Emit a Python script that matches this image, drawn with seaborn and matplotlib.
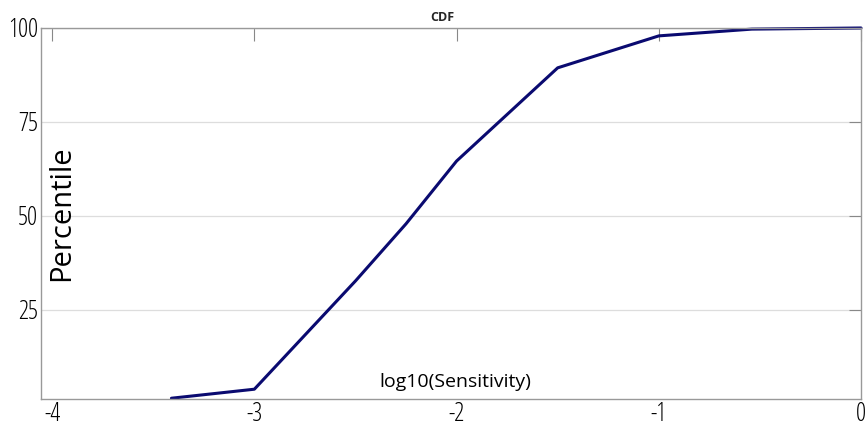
import pandas as pd
import matplotlib
matplotlib.use('Agg')
import matplotlib.pyplot as plt
import seaborn as sns

# CDF points
log_sens = [-3.41, -3.0, -2.5, -2.25, -2.0, -1.5, -1.0, -0.54, 0.0]
percentile = [1.5, 3.9, 32.7, 47.9, 64.6, 89.4, 97.9, 99.7, 100.0]
yticks = [25, 50, 75, 100]
xticks = [-4, -3, -2, -1, 0]

df = pd.DataFrame({'x': log_sens, 'y': percentile})

sns.set_style('white')
plt.rcParams['font.family'] = ['Open Sans', 'DejaVu Sans']

fig = plt.figure(figsize=(8.65, 4.28), dpi=100)
ax = fig.add_axes([0.0474, 0.0678, 0.948, 0.8668])

sns.lineplot(data=df, x='x', y='y', ax=ax, color='#0a0a70', linewidth=2.2, clip_on=False)

ax.set_xlim(-4.055, 0)
ax.set_ylim(1.3, 100)
ax.set_xticks(xticks)
ax.set_yticks(yticks)
ax.set_xticklabels(['-4', '-3', '-2', '-1', '0'], fontsize=18, stretch='condensed', color='black')
ax.set_yticklabels([str(v) for v in yticks], fontsize=18, stretch='condensed', color='black')
ax.yaxis.grid(True, color='#dddddd', linewidth=0.9)
ax.set_axisbelow(True)
ax.tick_params(axis='both', direction='in', length=9, width=0.8, color='#888888',
               top=True, right=True, pad=2)
for s in ax.spines.values():
    s.set_visible(True)
    s.set_color('#999999')
    s.set_linewidth(1.0)

ax.set_xlabel('')
ax.set_ylabel('')
ax.text(0.008, 0.5, 'Percentile', transform=ax.transAxes, rotation=90,
        fontsize=21, stretch='normal', color='black', ha='left', va='center')
ax.text(0.505, 0.047, 'log10(Sensitivity)', transform=ax.transAxes,
        fontsize=14, stretch='normal', color='black', ha='center', va='center')
ax.set_title('CDF', fontsize=9, fontweight='bold', stretch='condensed', pad=5, x=0.49)

fig.savefig('out.png', dpi=100)
